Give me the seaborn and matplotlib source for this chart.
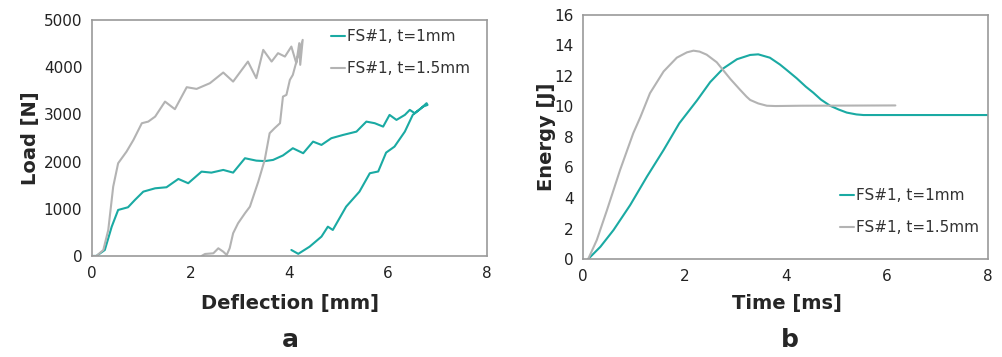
import matplotlib
matplotlib.use("Agg")
import matplotlib.pyplot as plt
import seaborn as sns

# ---- data ----
load_1mm_x = [0.0, 0.09, 0.26, 0.40, 0.53, 0.73, 0.87, 1.04, 1.28, 1.51, 1.75, 1.95, 2.22, 2.42, 2.66,
              2.86, 3.10, 3.33, 3.50, 3.67, 3.87, 4.07, 4.28, 4.48, 4.65, 4.85, 5.09, 5.36, 5.56, 5.73,
              5.90, 6.03, 6.17, 6.34, 6.44, 6.54, 6.67, 6.78, 6.80, 6.71, 6.50, 6.34, 6.13, 5.96, 5.80,
              5.63, 5.42, 5.15, 4.88, 4.78, 4.65, 4.41, 4.18, 4.04]
load_1mm_y = [0, 0, 127, 621, 975, 1032, 1187, 1363, 1434, 1456, 1632, 1541, 1787, 1766, 1823,
              1766, 2071, 2020, 2010, 2035, 2130, 2283, 2177, 2423, 2353, 2495, 2565, 2635, 2847, 2813,
              2741, 2989, 2883, 2989, 3095, 3025, 3130, 3237, 3200, 3165, 2989, 2635, 2317, 2190, 1790,
              1753, 1363, 1045, 551, 621, 410, 197, 45, 127]

load_15mm_x = [0.0, 0.09, 0.23, 0.33, 0.43, 0.53, 0.70, 0.84, 1.01, 1.14, 1.28, 1.48, 1.68, 1.92, 2.12,
               2.39, 2.66, 2.86, 3.16, 3.33, 3.47, 3.64, 3.77, 3.91, 4.04, 4.14, 4.20, 4.22, 4.27, 4.18,
               4.07, 4.01, 3.94, 3.87, 3.81, 3.70, 3.60, 3.50, 3.37, 3.20, 3.10, 2.96, 2.86, 2.79, 2.73,
               2.66, 2.56, 2.46, 2.29, 2.22]
load_15mm_y = [0, 0, 127, 551, 1469, 1965, 2211, 2459, 2813, 2847, 2953, 3271, 3110, 3576, 3540,
               3661, 3887, 3695, 4119, 3767, 4367, 4119, 4297, 4225, 4437, 4085, 4509, 4050, 4579, 4261,
               3837, 3731, 3413, 3377, 2813, 2707, 2601, 2035, 1575, 1045, 905, 693, 481, 163, 21,
               91, 163, 57, 42, 0]

energy_1mm_t = [0.10, 0.34, 0.60, 0.93, 1.26, 1.59, 1.90, 2.25, 2.51, 2.77, 3.04, 3.30, 3.46, 3.69,
                3.89, 4.02, 4.22, 4.40, 4.55, 4.70, 4.88, 5.05, 5.21, 5.40, 5.54, 8.0]
energy_1mm_e = [0.0, 0.8, 1.9, 3.54, 5.4, 7.15, 8.9, 10.4, 11.6, 12.5, 13.1, 13.38, 13.42, 13.2,
                12.75, 12.4, 11.85, 11.3, 10.9, 10.45, 10.05, 9.8, 9.6, 9.48, 9.44, 9.44]

energy_15mm_t = [0.10, 0.27, 0.47, 0.73, 0.99, 1.13, 1.32, 1.59, 1.85, 2.05, 2.18, 2.30, 2.44, 2.64,
                 2.91, 3.10, 3.23, 3.30, 3.46, 3.63, 3.80, 4.29, 6.17]
energy_15mm_e = [0.0, 1.25, 3.2, 5.84, 8.25, 9.3, 10.87, 12.3, 13.2, 13.55, 13.66, 13.6, 13.4, 12.9,
                 11.8, 11.1, 10.64, 10.43, 10.2, 10.05, 10.03, 10.05, 10.07]

labels = ["FS#1, t=1mm", "FS#1, t=1.5mm"]
teal = "#1aaaa3"
grey = "#b3b3b3"

sns.set_style("white")
plt.rcParams["font.family"] = ["DejaVu Sans"]

fig = plt.figure(figsize=(10.02, 3.57), dpi=100)
ax1 = fig.add_axes([0.0918, 0.283, 0.394, 0.661])
ax2 = fig.add_axes([0.582, 0.2745, 0.404, 0.6835])

sns.lineplot(x=load_1mm_x, y=load_1mm_y, sort=False, estimator=None, ax=ax1,
             color=teal, lw=1.5, label=labels[0])
sns.lineplot(x=load_15mm_x, y=load_15mm_y, sort=False, estimator=None, ax=ax1,
             color=grey, lw=1.5, label=labels[1])

sns.lineplot(x=energy_1mm_t, y=energy_1mm_e, sort=False, estimator=None, ax=ax2,
             color=teal, lw=1.5, label=labels[0])
sns.lineplot(x=energy_15mm_t, y=energy_15mm_e, sort=False, estimator=None, ax=ax2,
             color=grey, lw=1.5, label=labels[1])

ax1.set_xlim(0, 8)
ax1.set_ylim(0, 5000)
ax1.set_xticks([0, 2, 4, 6, 8])
ax1.set_yticks([0, 1000, 2000, 3000, 4000, 5000])
ax2.set_xlim(0, 8)
ax2.set_ylim(0, 16)
ax2.set_xticks([0, 2, 4, 6, 8])
ax2.set_yticks(list(range(0, 17, 2)))

for ax in (ax1, ax2):
    for s in ax.spines.values():
        s.set_color("#9a9a9a")
        s.set_linewidth(1.2)
    ax.tick_params(length=0, labelsize=11, colors="#222222", pad=7)
    ax.set_xlabel("")
    ax.set_ylabel("")

ax1.legend(loc="upper left", bbox_to_anchor=(0.605, 0.96), frameon=False, fontsize=11,
           handlelength=0.9, handletextpad=0.15, labelspacing=1.1, borderpad=0, borderaxespad=0,
           labelcolor="#333333")
ax2.legend(loc="upper left", bbox_to_anchor=(0.635, 0.29), frameon=False, fontsize=11,
           handlelength=0.9, handletextpad=0.15, labelspacing=1.1, borderpad=0, borderaxespad=0,
           labelcolor="#333333")

fig.text(0.03, (357 - 138) / 357, "Load [N]", rotation=90, ha="center", va="center",
         fontsize=14, fontweight="bold")
fig.text(0.545, (357 - 137) / 357, "Energy [J]", rotation=90, ha="center", va="center",
         fontsize=14, fontweight="bold")
fig.text(290 / 1002, 1 - 303 / 357, "Deflection [mm]", ha="center", va="center",
         fontsize=14, fontweight="bold")
fig.text(787 / 1002, 1 - 303 / 357, "Time [ms]", ha="center", va="center",
         fontsize=14, fontweight="bold")
fig.text(290 / 1002, 1 - 340 / 357, "a", ha="center", va="center", fontsize=18, fontweight="bold")
fig.text(790 / 1002, 1 - 340 / 357, "b", ha="center", va="center", fontsize=18, fontweight="bold")

fig.savefig("out.png", dpi=100)
